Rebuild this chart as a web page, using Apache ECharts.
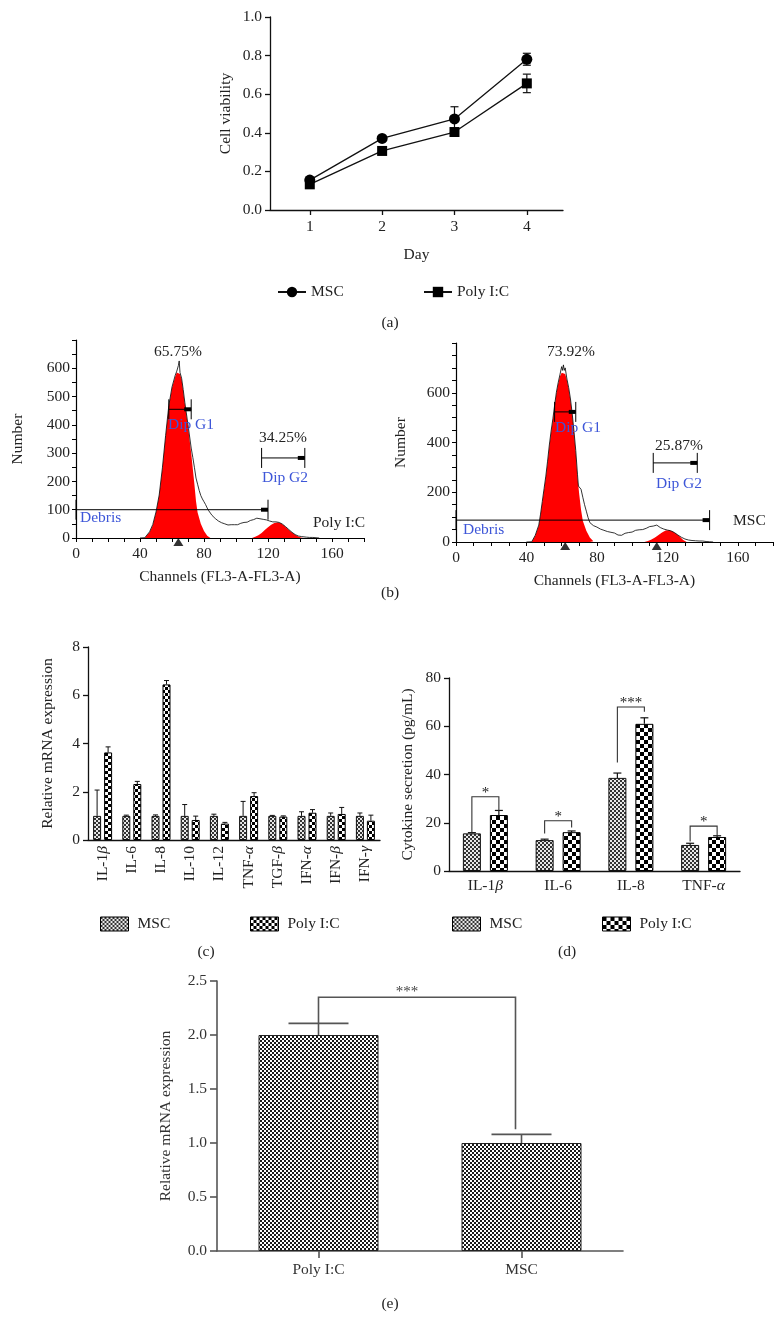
<!DOCTYPE html>
<html><head><meta charset="utf-8">
<script src="https://cdn.jsdelivr.net/npm/echarts@6/dist/echarts.min.js"></script>
<style>
html,body{margin:0;padding:0;background:#fff;width:780px;height:1321px;overflow:hidden}
.pane{position:absolute;left:0;top:0;width:780px;height:1321px}
</style>
</head><body>
<div id="pa" class="pane"></div>
<div id="pb" class="pane"></div>
<div id="pc" class="pane"></div>
<div id="pd" class="pane"></div>
<div id="pe" class="pane"></div>
<script>
// ===================== DATA =====================
// (a) cell viability
const days = [1, 2, 3, 4];
const mscViability = [0.155, 0.371, 0.472, 0.781];
const mscViabilityErr = [0.01, 0.01, 0.063, 0.031];
const polyViability = [0.133, 0.306, 0.404, 0.656];
const polyViabilityErr = [0.01, 0.01, 0.01, 0.048];

// (b) cell cycle histograms [channel, number]
const polyHist = [[40,0],[43,1],[46,22],[48,48],[50,92],[52,152],[54,248],[56,362],[58,468],[60,534],[62,575],[63,590],[64,610],[64.5,626],[65,585],[66,565],[67,525],[68,480],[70,400],[72,318],[73,285],[74,250],[75,212],[76,190],[77,168],[78,150],[79,138],[80,128],[81,118],[82,106],[83,96],[84,88],[85,80],[86,74],[87,69],[88,64],[89,60],[90,57],[91,54],[92,52],[93,50],[94,47],[95,46],[96,45],[97,47],[98,45],[99,47],[100,48],[101,47],[102,50],[103,52],[104,51],[105,55],[106,57],[107,56],[108,60],[109,62],[110,61],[111,65],[112,67],[113,70],[114,66],[115,68],[116,71],[117,66],[118,67],[119,64],[120,63],[121,60],[122,58],[123,57],[124,58],[125,57],[126,56],[127,55],[128,52],[129,49],[130,45],[131,40],[132,35],[133,30],[134,25],[135,20],[136,15],[137,12],[138,9],[139,7],[140,5],[141,5],[142,4],[144,3],[146,2],[148,2],[150,1],[152,0]];
const polyG1Fit = [[43,0],[46,20],[48,45],[50,90],[52,150],[54,245],[56,360],[58,465],[60,530],[62,570],[63,585],[64,588],[65,580],[66,560],[67,520],[68,475],[70,395],[72,300],[73,245],[74,190],[75,130],[76,90],[78,50],[80,25],[82,8],[84,0]];
const polyG2Fit = [[110,0],[112,4],[114,10],[116,18],[118,28],[120,38],[122,47],[124,53],[126,55],[128,52],[130,44],[132,34],[134,24],[136,15],[138,8],[140,3],[142,0]];
const polyGates = [[0,120,100],[58,72,455],[116,143,283]];   // [from, to, level]
const polyPeakMarks = [[64,0]];
const polyPercents = ['65.75%', '34.25%'];

const mscHist = [[40,0],[43,1],[45,27],[47,68],[48,112],[49,163],[50,214],[51,265],[52,325],[53,390],[54,446],[55,495],[56,550],[57,602],[58,640],[59,672],[60,705],[60.5,690],[61,712],[61.5,690],[62,700],[63,655],[64,620],[65,575],[66,515],[67,445],[68,368],[69,270],[69.5,225],[70,220],[70.5,222],[71,212],[72,180],[73,150],[74,124],[75,98],[76,78],[77,70],[78,66],[79,63],[80,60],[81,56],[82,52],[83,49],[84,47],[85,44],[86,42],[87,40],[88,39],[89,37],[90,36],[91,34],[92,28],[93,22],[94,27],[95,32],[96,35],[97,34],[98,38],[99,37],[100,40],[101,42],[102,47],[103,45],[104,49],[105,48],[106,50],[107,53],[108,55],[109,58],[110,62],[111,60],[112,64],[113,66],[114,68],[115,62],[116,58],[117,55],[118,52],[119,50],[120,48],[121,47],[122,45],[123,42],[124,38],[125,33],[126,28],[127,23],[128,19],[129,15],[130,12],[131,10],[132,8],[134,6],[136,5],[138,4],[140,4],[142,2],[144,1],[146,0]];
const mscG1Fit = [[43,0],[45,25],[47,65],[48,110],[49,160],[50,210],[51,260],[52,320],[53,385],[54,440],[55,490],[56,545],[57,598],[58,635],[59,665],[60,680],[61,684],[62,675],[63,650],[64,615],[65,570],[66,510],[67,440],[68,360],[69,260],[70,190],[71,130],[72,85],[74,45],[76,18],[78,3],[79,0]];
const mscG2Fit = [[107,0],[109,4],[111,10],[113,18],[115,28],[117,38],[119,46],[120,48],[121,47],[122,45],[123,42],[124,38],[125,33],[126,28],[127,22],[128,15],[129,8],[130,3],[131,0]];
const mscGates = [[0,144,88],[56,68,523],[112,137,318]];
const mscPeakMarks = [[62,0],[114,0]];
const mscPercents = ['73.92%', '25.87%'];
const histXTicks = [0, 40, 80, 120, 160];

// (c) relative mRNA expression
const cytokinesC = ['IL-1β','IL-6','IL-8','IL-10','IL-12','TNF-α','TGF-β','IFN-α','IFN-β','IFN-γ'];
const mscC = [1.0, 1.0, 1.0, 1.0, 1.0, 1.0, 1.0, 1.0, 1.0, 1.0];
const mscCErr = [1.07, 0.03, 0.04, 0.47, 0.07, 0.6, 0.02, 0.17, 0.12, 0.12];
const polyC = [3.63, 2.32, 6.45, 0.83, 0.68, 1.82, 0.97, 1.13, 1.08, 0.8];
const polyCErr = [0.23, 0.11, 0.16, 0.16, 0.05, 0.14, 0.03, 0.13, 0.27, 0.23];

// (d) cytokine secretion
const cytokinesD = ['IL-1β','IL-6','IL-8','TNF-α'];
const mscD = [15.6, 12.8, 38.6, 10.8];
const mscDErr = [0.3, 0.4, 2.0, 0.7];
const polyD = [23.2, 16.1, 61.0, 14.1];
const polyDErr = [1.9, 0.5, 2.5, 0.5];
// [category, left leg end, right leg end, bracket top]
const sigD = [[0, 16, 25, 30.8], [1, 15.5, 18, 20.8], [2, 45, 66, 68], [3, 12.2, 14.5, 18.6]];
const sigDLabels = ['*', '*', '***', '*'];

// (e) relative mRNA expression
const groupsE = ['Poly I:C', 'MSC'];
const valuesE = [2.0, 1.0];
const errE = [0.108, 0.08];
const sigE = [[0, 1, 2.108, 1.127, 2.35]];
const sigELabel = '***';

// ===================== STYLE HELPERS =====================
const SERIF = "'Liberation Serif','Times New Roman','DejaVu Serif',serif";
const FS = 15.5;
const TXT = '#222';
const AX = '#111';
function checker(cell, dark, light) {
  const c = document.createElement('canvas');
  c.width = c.height = cell * 2;
  const g = c.getContext('2d');
  g.fillStyle = light; g.fillRect(0, 0, cell * 2, cell * 2);
  g.fillStyle = dark; g.fillRect(0, 0, cell, cell); g.fillRect(cell, cell, cell, cell);
  return { image: c, repeat: 'repeat' };
}
function greek(s) { return s.replace(/([αβγ])/g, '{g|$1}'); }
const richG = { g: { fontStyle: 'italic', fontFamily: SERIF, fontSize: FS, color: TXT } };
function txt(text, x, y, o) {
  o = o || {};
  return { type: 'text', x: x, y: y, silent: true, z: 50,
    style: { text: text, font: (o.size || FS) + 'px ' + SERIF, fill: o.color || TXT,
      align: o.align || 'center', verticalAlign: 'middle' } };
}
function axisLineStyle(c, w) { return { show: true, lineStyle: { color: c || AX, width: w || 1.3 } }; }
function vErrBars(offset, capHalf, color, lw, both) {
  return function (params, api) {
    const x0 = api.value(0), v = api.value(1), e = api.value(2);
    const mid = api.coord([x0, v]);
    const top = api.coord([x0, v + e]);
    const bot = both ? api.coord([x0, v - e]) : mid;
    const x = mid[0] + offset;
    const st = { stroke: color, lineWidth: lw };
    const ch = [
      { type: 'line', shape: { x1: x, y1: bot[1], x2: x, y2: top[1] }, style: st },
      { type: 'line', shape: { x1: x - capHalf, y1: top[1], x2: x + capHalf, y2: top[1] }, style: st }
    ];
    if (both) ch.push({ type: 'line', shape: { x1: x - capHalf, y1: bot[1], x2: x + capHalf, y2: bot[1] }, style: st });
    return { type: 'group', children: ch };
  };
}

// ===================== (a) =====================
const chartA = echarts.init(document.getElementById('pa'));
chartA.setOption({
  animation: false,
  textStyle: { fontFamily: SERIF },
  grid: { left: 270, top: 17, width: 293, height: 193, outerBoundsMode: 'none' },
  xAxis: {
    type: 'value', min: 0.45, max: 4.5,
    name: 'Day', nameLocation: 'middle', nameGap: 37,
    nameTextStyle: { fontSize: FS, color: TXT, fontFamily: SERIF },
    axisLine: axisLineStyle(),
    axisTick: { show: true, customValues: days, length: 5, lineStyle: { color: AX, width: 1.3 } },
    axisLabel: { customValues: days, fontSize: FS, color: TXT, margin: 9, fontFamily: SERIF },
    splitLine: { show: false }
  },
  yAxis: {
    type: 'value', min: 0, max: 1, interval: 0.2,
    name: 'Cell viability', nameLocation: 'middle', nameGap: 36,
    nameTextStyle: { fontSize: FS, color: TXT, fontFamily: SERIF },
    axisLine: axisLineStyle(),
    axisTick: { show: true, length: 5, lineStyle: { color: AX, width: 1.3 } },
    axisLabel: { fontSize: FS, color: TXT, margin: 8, fontFamily: SERIF, formatter: v => v.toFixed(1) },
    splitLine: { show: false }
  },
  legend: [
    { data: ['MSC'], left: 272, top: 279, itemWidth: 28, itemHeight: 13, selectedMode: false,
      textStyle: { fontSize: FS, color: TXT, fontFamily: SERIF } },
    { data: ['Poly I:C'], left: 418, top: 279, itemWidth: 28, itemHeight: 13, selectedMode: false,
      textStyle: { fontSize: FS, color: TXT, fontFamily: SERIF } }
  ],
  graphic: [
    txt('(a)', 390, 323), txt('(b)', 390, 593), txt('(c)', 206, 952), txt('(d)', 567, 952), txt('(e)', 390, 1304)
  ],
  series: [
    { type: 'custom', name: 'errMSC', z: 1, renderItem: vErrBars(0, 4, '#111', 1.2, true),
      data: days.map((d, i) => [d, mscViability[i], mscViabilityErr[i]]) },
    { type: 'custom', name: 'errPoly', z: 1, renderItem: vErrBars(0, 4, '#111', 1.2, true),
      data: days.map((d, i) => [d, polyViability[i], polyViabilityErr[i]]) },
    { type: 'line', name: 'MSC', z: 3, symbol: 'circle', symbolSize: 11,
      lineStyle: { color: '#111', width: 1.3 }, itemStyle: { color: '#000' },
      data: days.map((d, i) => [d, mscViability[i]]) },
    { type: 'line', name: 'Poly I:C', z: 3, symbol: 'rect', symbolSize: 10,
      lineStyle: { color: '#111', width: 1.3 }, itemStyle: { color: '#000' },
      data: days.map((d, i) => [d, polyViability[i]]) }
  ]
});

// ===================== (b) =====================
const BLUE = '#3d56d8';
function gateRender(params, api) {
  const y = api.value(2);
  const p1 = api.coord([api.value(0), y]);
  const p2 = api.coord([api.value(1), y]);
  const st = { stroke: '#000', lineWidth: 1 };
  return { type: 'group', children: [
    { type: 'line', shape: { x1: p1[0], y1: p1[1], x2: p2[0], y2: p2[1] }, style: st },
    { type: 'line', shape: { x1: p1[0], y1: p1[1] - 10, x2: p1[0], y2: p1[1] + 10 }, style: st },
    { type: 'line', shape: { x1: p2[0], y1: p2[1] - 10, x2: p2[0], y2: p2[1] + 10 }, style: st },
    { type: 'rect', shape: { x: p2[0] - 7, y: p2[1] - 2, width: 7, height: 4 }, style: { fill: '#000' } }
  ] };
}
function histX(idx) {
  return {
    gridIndex: idx, type: 'value', min: 0, max: 180, interval: 10,
    name: 'Channels (FL3-A-FL3-A)', nameLocation: 'middle', nameGap: 31,
    nameTextStyle: { fontSize: FS, color: TXT, fontFamily: SERIF },
    axisLine: axisLineStyle('#000', 1.2),
    axisTick: { show: true, length: 4, lineStyle: { color: '#000', width: 1 } },
    axisLabel: { fontSize: FS, color: TXT, margin: 8, fontFamily: SERIF,
      formatter: v => histXTicks.indexOf(v) >= 0 ? String(v) : '' },
    splitLine: { show: false }
  };
}
function histY(idx, max, step, top, gap) {
  return {
    gridIndex: idx, type: 'value', min: 0, max: max, interval: 50,
    name: 'Number', nameLocation: 'middle', nameGap: gap,
    nameTextStyle: { fontSize: FS, color: TXT, fontFamily: SERIF },
    axisLine: axisLineStyle('#000', 1.2),
    axisTick: { show: true, length: 4, lineStyle: { color: '#000', width: 1 } },
    axisLabel: { fontSize: FS, color: TXT, margin: 6, fontFamily: SERIF,
      formatter: v => (v % step === 0 && v <= top) ? String(v) : '' },
    splitLine: { show: false }
  };
}
function areaSeries(idx, data) {
  return { type: 'line', xAxisIndex: idx, yAxisIndex: idx, data: data, symbol: 'none', z: 1,
    lineStyle: { width: 0, opacity: 0 }, areaStyle: { color: '#ff0000', opacity: 1 } };
}
function histLine(idx, data) {
  return { type: 'line', xAxisIndex: idx, yAxisIndex: idx, data: data, symbol: 'none', z: 2,
    lineStyle: { color: '#000', width: 0.8 } };
}
const chartB = echarts.init(document.getElementById('pb'));
chartB.setOption({
  animation: false,
  textStyle: { fontFamily: SERIF },
  grid: [
    { left: 76, top: 340, width: 288, height: 198, outerBoundsMode: 'none' },
    { left: 456, top: 343, width: 317, height: 199, outerBoundsMode: 'none' }
  ],
  xAxis: [histX(0), histX(1)],
  yAxis: [histY(0, 700, 100, 600, 50), histY(1, 800, 200, 600, 47)],
  graphic: [
    txt(polyPercents[0], 178, 352), txt('Dip G1', 191, 425, { color: BLUE }),
    txt(polyPercents[1], 283, 438), txt('Dip G2', 285, 478, { color: BLUE }),
    txt('Debris', 80, 518, { color: BLUE, align: 'left' }), txt('Poly I:C', 313, 523, { align: 'left' }),
    txt(mscPercents[0], 571, 352), txt('Dip G1', 578, 428, { color: BLUE }),
    txt(mscPercents[1], 679, 446), txt('Dip G2', 679, 484, { color: BLUE }),
    txt('Debris', 463, 530, { color: BLUE, align: 'left' }), txt('MSC', 733, 521, { align: 'left' })
  ],
  series: [
    areaSeries(0, polyG1Fit), areaSeries(0, polyG2Fit), histLine(0, polyHist),
    { type: 'custom', xAxisIndex: 0, yAxisIndex: 0, z: 3, renderItem: gateRender, data: polyGates },
    { type: 'scatter', xAxisIndex: 0, yAxisIndex: 0, z: 4, symbol: 'triangle', symbolSize: [10, 8],
      symbolOffset: [0, '50%'], itemStyle: { color: '#000' }, data: polyPeakMarks },
    areaSeries(1, mscG1Fit), areaSeries(1, mscG2Fit), histLine(1, mscHist),
    { type: 'custom', xAxisIndex: 1, yAxisIndex: 1, z: 3, renderItem: gateRender, data: mscGates },
    { type: 'scatter', xAxisIndex: 1, yAxisIndex: 1, z: 4, symbol: 'triangle', symbolSize: [10, 8],
      symbolOffset: [0, '50%'], itemStyle: { color: '#000' }, data: mscPeakMarks }
  ]
});

// ===================== (c) =====================
const patMSC = checker(2, '#333', '#e8e8e8');
const patPolyC = checker(3, '#000', '#fff');
const patPolyD = checker(4, '#000', '#fff');
const patE = checker(2, '#1a1a1a', '#fff');
function barLegend(name, left, top) {
  return { data: [name], left: left, top: top, itemWidth: 28, itemHeight: 14, icon: 'rect', selectedMode: false,
    itemStyle: { borderColor: '#000', borderWidth: 1 },
    textStyle: { fontSize: FS, color: TXT, fontFamily: SERIF, padding: [0, 0, 0, 4] } };
}
const chartC = echarts.init(document.getElementById('pc'));
chartC.setOption({
  animation: false,
  textStyle: { fontFamily: SERIF },
  grid: { left: 88, top: 647, width: 292, height: 193, outerBoundsMode: 'none' },
  xAxis: {
    type: 'category', data: cytokinesC,
    axisLine: axisLineStyle(), axisTick: { show: false },
    axisLabel: { rotate: 90, margin: 6, fontSize: FS, color: TXT, fontFamily: SERIF, formatter: greek, rich: richG, interval: 0 }
  },
  yAxis: {
    type: 'value', min: 0, max: 8, interval: 2,
    name: 'Relative mRNA expression', nameLocation: 'middle', nameGap: 32,
    nameTextStyle: { fontSize: FS, color: TXT, fontFamily: SERIF },
    axisLine: axisLineStyle(), axisTick: { show: true, length: 5, lineStyle: { color: AX, width: 1.3 } },
    axisLabel: { fontSize: FS, color: TXT, margin: 8, fontFamily: SERIF },
    splitLine: { show: false }
  },
  legend: [barLegend('MSC', 95, 911), barLegend('Poly I:C', 245, 911)],
  series: [
    { type: 'bar', name: 'MSC', data: mscC, barWidth: 8, barGap: '37.5%',
      itemStyle: { color: patMSC, borderColor: '#111', borderWidth: 1 } },
    { type: 'bar', name: 'Poly I:C', data: polyC, barWidth: 8,
      itemStyle: { color: patPolyC, borderColor: '#000', borderWidth: 1 } },
    { type: 'custom', name: 'eMSC', z: 3, renderItem: vErrBars(-5.5, 2.5, '#111', 1, false),
      data: mscC.map((v, i) => [i, v, mscCErr[i]]) },
    { type: 'custom', name: 'ePoly', z: 3, renderItem: vErrBars(5.5, 2.5, '#111', 1, false),
      data: polyC.map((v, i) => [i, v, polyCErr[i]]) }
  ]
});

// ===================== (d) =====================
const OFF_D = 13.5;
const chartD = echarts.init(document.getElementById('pd'));
chartD.setOption({
  animation: false,
  textStyle: { fontFamily: SERIF },
  grid: { left: 449, top: 678, width: 291, height: 193, outerBoundsMode: 'none' },
  xAxis: {
    type: 'category', data: cytokinesD,
    axisLine: axisLineStyle(), axisTick: { show: false },
    axisLabel: { margin: 7, fontSize: FS, color: TXT, fontFamily: SERIF, formatter: greek, rich: richG, interval: 0 }
  },
  yAxis: {
    type: 'value', min: 0, max: 80, interval: 20,
    name: 'Cytokine secretion (pg/mL)', nameLocation: 'middle', nameGap: 33,
    nameTextStyle: { fontSize: FS, color: TXT, fontFamily: SERIF },
    axisLine: axisLineStyle(), axisTick: { show: true, length: 5, lineStyle: { color: AX, width: 1.3 } },
    axisLabel: { fontSize: FS, color: TXT, margin: 8, fontFamily: SERIF },
    splitLine: { show: false }
  },
  legend: [barLegend('MSC', 447, 911), barLegend('Poly I:C', 597, 911)],
  series: [
    { type: 'bar', name: 'MSC', data: mscD, barWidth: 18, barGap: '50%',
      itemStyle: { color: patMSC, borderColor: '#111', borderWidth: 1 } },
    { type: 'bar', name: 'Poly I:C', data: polyD, barWidth: 18,
      itemStyle: { color: patPolyD, borderColor: '#000', borderWidth: 1 } },
    { type: 'custom', name: 'eMSC', z: 3, renderItem: vErrBars(-OFF_D, 4, '#111', 1.2, false),
      data: mscD.map((v, i) => [i, v, mscDErr[i]]) },
    { type: 'custom', name: 'ePoly', z: 3, renderItem: vErrBars(OFF_D, 4, '#111', 1.2, false),
      data: polyD.map((v, i) => [i, v, polyDErr[i]]) },
    { type: 'custom', name: 'sig', z: 4, data: sigD,
      renderItem: function (params, api) {
        const c = api.value(0);
        const top = api.coord([c, api.value(3)]);
        const l = api.coord([c, api.value(1)]);
        const r = api.coord([c, api.value(2)]);
        const xl = top[0] - OFF_D, xr = top[0] + OFF_D;
        return { type: 'group', children: [
          { type: 'polyline', shape: { points: [[xl, l[1]], [xl, top[1]], [xr, top[1]], [xr, r[1]]] },
            style: { stroke: '#333', lineWidth: 1.1, fill: null } },
          { type: 'text', x: top[0], y: top[1] - 4,
            style: { text: sigDLabels[params.dataIndex], font: '15px ' + SERIF, fill: TXT, align: 'center', verticalAlign: 'middle' } }
        ] };
      } }
  ]
});

// ===================== (e) =====================
const GE = '#555';
const chartE = echarts.init(document.getElementById('pe'));
chartE.setOption({
  animation: false,
  textStyle: { fontFamily: SERIF },
  grid: { left: 217, top: 981, width: 406, height: 270, outerBoundsMode: 'none' },
  xAxis: {
    type: 'category', data: groupsE,
    axisLine: axisLineStyle(GE, 1.6),
    axisTick: { show: true, alignWithLabel: true, length: 7, lineStyle: { color: GE, width: 1.6 } },
    axisLabel: { margin: 11, fontSize: FS, color: '#333', fontFamily: SERIF }
  },
  yAxis: {
    type: 'value', min: 0, max: 2.5, interval: 0.5,
    name: 'Relative mRNA expression', nameLocation: 'middle', nameGap: 43,
    nameTextStyle: { fontSize: FS, color: '#333', fontFamily: SERIF },
    axisLine: axisLineStyle(GE, 1.6),
    axisTick: { show: true, length: 7, lineStyle: { color: GE, width: 1.6 } },
    axisLabel: { fontSize: FS, color: '#333', margin: 10, fontFamily: SERIF, formatter: v => v.toFixed(1) },
    splitLine: { show: false }
  },
  series: [
    { type: 'bar', name: 'E', data: valuesE, barWidth: 120,
      itemStyle: { color: patE, borderColor: '#222', borderWidth: 1 } },
    { type: 'custom', name: 'eE', z: 3, renderItem: vErrBars(0, 30, GE, 1.6, false),
      data: valuesE.map((v, i) => [i, v, errE[i]]) },
    { type: 'custom', name: 'sigE', z: 4, data: sigE,
      renderItem: function (params, api) {
        const a = api.coord([api.value(0), api.value(2)]);
        const b = api.coord([api.value(1), api.value(3)]);
        const t = api.coord([api.value(0), api.value(4)]);
        const xr = b[0] - 6;
        return { type: 'group', children: [
          { type: 'polyline', shape: { points: [[a[0], a[1]], [a[0], t[1]], [xr, t[1]], [xr, b[1]]] },
            style: { stroke: GE, lineWidth: 1.6, fill: null } },
          { type: 'text', x: (a[0] + xr) / 2 - 10, y: t[1] - 5,
            style: { text: sigELabel, font: '15px ' + SERIF, fill: '#444', align: 'center', verticalAlign: 'middle' } }
        ] };
      } }
  ]
});
</script>
</body></html>
